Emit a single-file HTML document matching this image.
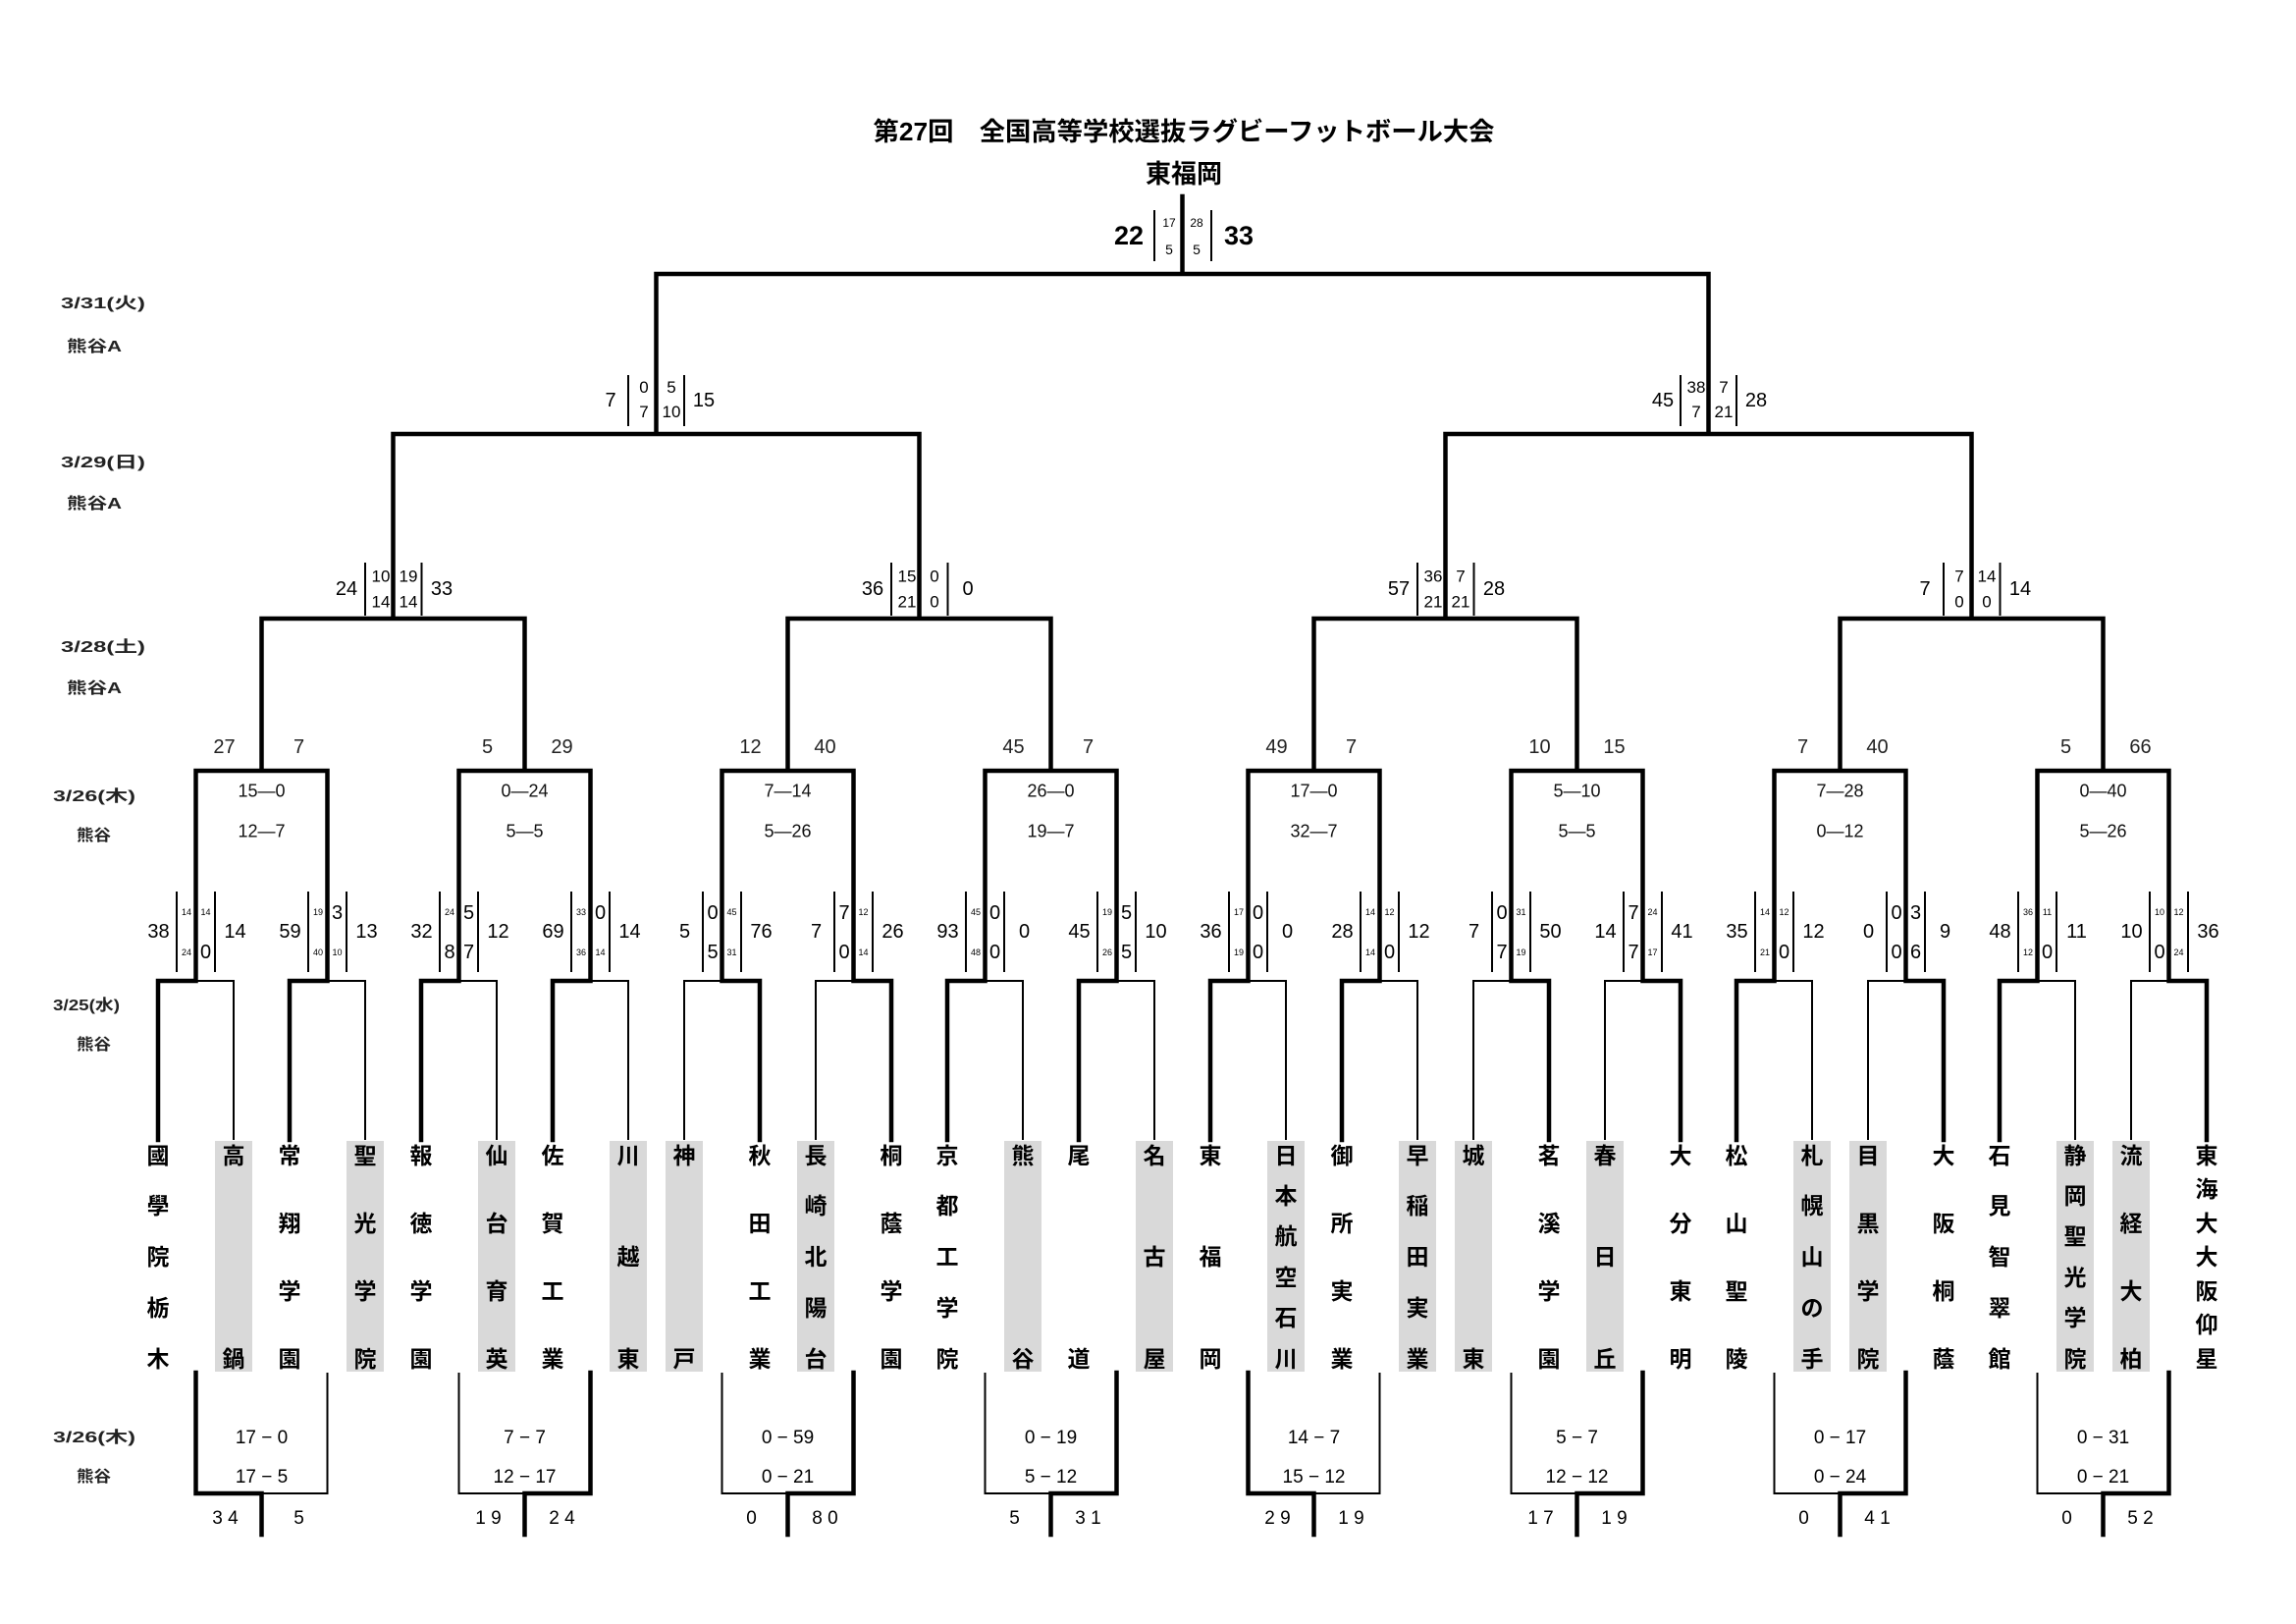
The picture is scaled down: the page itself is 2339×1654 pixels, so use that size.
<!DOCTYPE html>
<html><head><meta charset="utf-8">
<style>
html,body{margin:0;padding:0;background:#fff;width:2339px;height:1654px;overflow:hidden}
svg{display:block}
text{font-family:"Liberation Sans","Noto Sans CJK JP",sans-serif;fill:#000;text-anchor:middle}
.t{font-size:20px}
.hb{font-size:20px}
.hs{font-size:9px}
.q{font-size:20px}
.qh{font-size:17px}
.r{font-size:20px;fill:#222}
.ri{font-size:18px;fill:#111}
.b{font-size:19px}
.d{font-size:16px;font-weight:bold;text-anchor:start;fill:#222}
.n{font-size:23px;font-weight:bold}
.tt{font-size:26px;font-weight:bold}
</style></head>
<body>
<svg width="2339" height="1654" viewBox="0 0 2339 1654">
<!-- title -->
<text class="tt" x="1206" y="143" textLength="633" lengthAdjust="spacingAndGlyphs">第27回　全国高等学校選抜ラグビーフットボール大会</text>
<text class="tt" x="1206" y="186">東福岡</text>

<!-- date labels -->
<text class="d" x="62" y="314" textLength="86" lengthAdjust="spacingAndGlyphs">3/31(火)</text>
<text class="d" x="68" y="358" textLength="56" lengthAdjust="spacingAndGlyphs">熊谷A</text>
<text class="d" x="62" y="476" textLength="86" lengthAdjust="spacingAndGlyphs">3/29(日)</text>
<text class="d" x="68" y="518" textLength="56" lengthAdjust="spacingAndGlyphs">熊谷A</text>
<text class="d" x="62" y="664" textLength="86" lengthAdjust="spacingAndGlyphs">3/28(土)</text>
<text class="d" x="68" y="706" textLength="56" lengthAdjust="spacingAndGlyphs">熊谷A</text>
<text class="d" x="54" y="816" textLength="84" lengthAdjust="spacingAndGlyphs">3/26(木)</text>
<text class="d" x="78" y="856" textLength="35" lengthAdjust="spacingAndGlyphs">熊谷</text>
<text class="d" x="54" y="1029" textLength="68" lengthAdjust="spacingAndGlyphs">3/25(水)</text>
<text class="d" x="78" y="1069" textLength="35" lengthAdjust="spacingAndGlyphs">熊谷</text>
<text class="d" x="54" y="1469" textLength="84" lengthAdjust="spacingAndGlyphs">3/26(木)</text>
<text class="d" x="78" y="1509" textLength="35" lengthAdjust="spacingAndGlyphs">熊谷</text>

<!-- shading for first-round losers -->
<g fill="#d9d9d9">
<rect x="219" y="1162" width="38" height="235"/>
<rect x="353" y="1162" width="38" height="235"/>
<rect x="487" y="1162" width="38" height="235"/>
<rect x="621" y="1162" width="38" height="235"/>
<rect x="678" y="1162" width="38" height="235"/>
<rect x="812" y="1162" width="38" height="235"/>
<rect x="1023" y="1162" width="38" height="235"/>
<rect x="1157" y="1162" width="38" height="235"/>
<rect x="1291" y="1162" width="38" height="235"/>
<rect x="1425" y="1162" width="38" height="235"/>
<rect x="1482" y="1162" width="38" height="235"/>
<rect x="1616" y="1162" width="38" height="235"/>
<rect x="1827" y="1162" width="38" height="235"/>
<rect x="1884" y="1162" width="38" height="235"/>
<rect x="2095" y="1162" width="38" height="235"/>
<rect x="2152" y="1162" width="38" height="235"/>
</g>

<!-- thick bracket lines -->
<path fill="none" stroke="#000" stroke-width="4.5" stroke-linejoin="miter" stroke-linecap="square" d="
M1204.5 200 V279 M668.5 442 V279 H1740.5 V442
M400.5 630 V442 H936.5 V630 M1472.5 630 V442 H2008.5 V630
M266.5 785 V630 H534.5 V785 M802.5 785 V630 H1070.5 V785 M1338.5 785 V630 H1606.5 V785 M1874.5 785 V630 H2142.5 V785
M199.5 999 V785 H333.5 V999
M467.5 999 V785 H601.5 V999
M735.5 999 V785 H869.5 V999
M1003.5 999 V785 H1137.5 V999
M1271.5 999 V785 H1405.5 V999
M1539.5 999 V785 H1673.5 V999
M1807.5 999 V785 H1941.5 V999
M2075.5 999 V785 H2209.5 V999
M199.5 999 H161 V1161
M333.5 999 H295 V1161
M467.5 999 H429 V1161
M601.5 999 H563 V1161
M735.5 999 H774 V1161
M869.5 999 H908 V1161
M1003.5 999 H965 V1161
M1137.5 999 H1099 V1161
M1271.5 999 H1233 V1161
M1405.5 999 H1367 V1161
M1539.5 999 H1578 V1161
M1673.5 999 H1712 V1161
M1807.5 999 H1769 V1161
M1941.5 999 H1980 V1161
M2075.5 999 H2037 V1161
M2209.5 999 H2248 V1161
M266.5 1563 V1521 H199.5 V1398
M534.5 1563 V1521 H601.5 V1398
M802.5 1563 V1521 H869.5 V1398
M1070.5 1563 V1521 H1137.5 V1398
M1338.5 1563 V1521 H1271.5 V1398
M1606.5 1563 V1521 H1673.5 V1398
M1874.5 1563 V1521 H1941.5 V1398
M2142.5 1563 V1521 H2209.5 V1398
"/>

<!-- thin lines -->
<path fill="none" stroke="#000" stroke-width="2" stroke-linejoin="miter" d="
M199.5 999 H238 V1161
M333.5 999 H372 V1161
M467.5 999 H506 V1161
M601.5 999 H640 V1161
M735.5 999 H697 V1161
M869.5 999 H831 V1161
M1003.5 999 H1042 V1161
M1137.5 999 H1176 V1161
M1271.5 999 H1310 V1161
M1405.5 999 H1444 V1161
M1539.5 999 H1501 V1161
M1673.5 999 H1635 V1161
M1807.5 999 H1846 V1161
M1941.5 999 H1903 V1161
M2075.5 999 H2114 V1161
M2209.5 999 H2171 V1161
M266.5 1521 H333.5 V1398
M534.5 1521 H467.5 V1398
M802.5 1521 H735.5 V1398
M1070.5 1521 H1003.5 V1398
M1338.5 1521 H1405.5 V1398
M1606.5 1521 H1539.5 V1398
M1874.5 1521 H1807.5 V1398
M2142.5 1521 H2075.5 V1398
M1176 214 V266 M1234 214 V266
M640 382 V434 M697 382 V434 M1712 382 V434 M1769 382 V434
M372 573 V627 M429.5 573 V627 M908 573 V627 M965.5 573 V627
M1444 573 V627 M1501.5 573 V627 M1980 573 V627 M2037.5 573 V627
M180 908 V990 M219 908 V990 M314 908 V990 M353 908 V990
M448 908 V990 M487 908 V990 M582 908 V990 M621 908 V990
M716 908 V990 M755 908 V990 M850 908 V990 M889 908 V990
M984 908 V990 M1023 908 V990 M1118 908 V990 M1157 908 V990
M1252 908 V990 M1291 908 V990 M1386 908 V990 M1425 908 V990
M1520 908 V990 M1559 908 V990 M1654 908 V990 M1693 908 V990
M1788 908 V990 M1827 908 V990 M1922 908 V990 M1961 908 V990
M2056 908 V990 M2095 908 V990 M2190 908 V990 M2229 908 V990
"/>

<!-- final scores -->
<text x="1150" y="249" style="font-size:27px;font-weight:bold">22</text>
<text x="1262" y="249" style="font-size:27px;font-weight:bold">33</text>
<text x="1191" y="231" style="font-size:12px">17</text>
<text x="1191" y="259" style="font-size:14px">5</text>
<text x="1219" y="231" style="font-size:12px">28</text>
<text x="1219" y="259" style="font-size:14px">5</text>

<!-- semifinal scores -->
<text class="q" x="622" y="414">7</text>
<text class="qh" x="656" y="400">0</text><text class="qh" x="656" y="425">7</text>
<text class="qh" x="684" y="400">5</text><text class="qh" x="684" y="425">10</text>
<text class="q" x="717" y="414">15</text>
<text class="q" x="1694" y="414">45</text>
<text class="qh" x="1728" y="400">38</text><text class="qh" x="1728" y="425">7</text>
<text class="qh" x="1756" y="400">7</text><text class="qh" x="1756" y="425">21</text>
<text class="q" x="1789" y="414">28</text>

<!-- quarterfinal scores -->
<text class="q" x="353" y="606">24</text>
<text class="qh" x="388" y="592.5">10</text><text class="qh" x="388" y="618.5">14</text>
<text class="qh" x="416" y="592.5">19</text><text class="qh" x="416" y="618.5">14</text>
<text class="q" x="450" y="606">33</text>
<text class="q" x="889" y="606">36</text>
<text class="qh" x="924" y="592.5">15</text><text class="qh" x="924" y="618.5">21</text>
<text class="qh" x="952" y="592.5">0</text><text class="qh" x="952" y="618.5">0</text>
<text class="q" x="986" y="606">0</text>
<text class="q" x="1425" y="606">57</text>
<text class="qh" x="1460" y="592.5">36</text><text class="qh" x="1460" y="618.5">21</text>
<text class="qh" x="1488" y="592.5">7</text><text class="qh" x="1488" y="618.5">21</text>
<text class="q" x="1522" y="606">28</text>
<text class="q" x="1961" y="606">7</text>
<text class="qh" x="1996" y="592.5">7</text><text class="qh" x="1996" y="618.5">0</text>
<text class="qh" x="2024" y="592.5">14</text><text class="qh" x="2024" y="618.5">0</text>
<text class="q" x="2058" y="606">14</text>

<!-- R16 top scores -->
<text class="r" x="228.5" y="767">27</text><text class="r" x="304.5" y="767">7</text>
<text class="r" x="496.5" y="767">5</text><text class="r" x="572.5" y="767">29</text>
<text class="r" x="764.5" y="767">12</text><text class="r" x="840.5" y="767">40</text>
<text class="r" x="1032.5" y="767">45</text><text class="r" x="1108.5" y="767">7</text>
<text class="r" x="1300.5" y="767">49</text><text class="r" x="1376.5" y="767">7</text>
<text class="r" x="1568.5" y="767">10</text><text class="r" x="1644.5" y="767">15</text>
<text class="r" x="1836.5" y="767">7</text><text class="r" x="1912.5" y="767">40</text>
<text class="r" x="2104.5" y="767">5</text><text class="r" x="2180.5" y="767">66</text>

<!-- R16 inner -->
<text class="ri" x="266.5" y="811.5">15—0</text><text class="ri" x="266.5" y="852.5">12—7</text>
<text class="ri" x="534.5" y="811.5">0—24</text><text class="ri" x="534.5" y="852.5">5—5</text>
<text class="ri" x="802.5" y="811.5">7—14</text><text class="ri" x="802.5" y="852.5">5—26</text>
<text class="ri" x="1070.5" y="811.5">26—0</text><text class="ri" x="1070.5" y="852.5">19—7</text>
<text class="ri" x="1338.5" y="811.5">17—0</text><text class="ri" x="1338.5" y="852.5">32—7</text>
<text class="ri" x="1606.5" y="811.5">5—10</text><text class="ri" x="1606.5" y="852.5">5—5</text>
<text class="ri" x="1874.5" y="811.5">7—28</text><text class="ri" x="1874.5" y="852.5">0—12</text>
<text class="ri" x="2142.5" y="811.5">0—40</text><text class="ri" x="2142.5" y="852.5">5—26</text>

<!-- first round scores -->
<text class="t" x="161.5" y="955">38</text><text class="hs" x="190" y="932">14</text><text class="hs" x="190" y="973">24</text><text class="hs" x="209.5" y="932">14</text><text class="hb" x="209.5" y="976">0</text><text class="t" x="239.5" y="955">14</text>
<text class="t" x="295.5" y="955">59</text><text class="hs" x="324" y="932">19</text><text class="hs" x="324" y="973">40</text><text class="hb" x="343.5" y="936">3</text><text class="hs" x="343.5" y="973">10</text><text class="t" x="373.5" y="955">13</text>
<text class="t" x="429.5" y="955">32</text><text class="hs" x="458" y="932">24</text><text class="hb" x="458" y="976">8</text><text class="hb" x="477.5" y="936">5</text><text class="hb" x="477.5" y="976">7</text><text class="t" x="507.5" y="955">12</text>
<text class="t" x="563.5" y="955">69</text><text class="hs" x="592" y="932">33</text><text class="hs" x="592" y="973">36</text><text class="hb" x="611.5" y="936">0</text><text class="hs" x="611.5" y="973">14</text><text class="t" x="641.5" y="955">14</text>
<text class="t" x="697.5" y="955">5</text><text class="hb" x="726" y="936">0</text><text class="hb" x="726" y="976">5</text><text class="hs" x="745.5" y="932">45</text><text class="hs" x="745.5" y="973">31</text><text class="t" x="775.5" y="955">76</text>
<text class="t" x="831.5" y="955">7</text><text class="hb" x="860" y="936">7</text><text class="hb" x="860" y="976">0</text><text class="hs" x="879.5" y="932">12</text><text class="hs" x="879.5" y="973">14</text><text class="t" x="909.5" y="955">26</text>
<text class="t" x="965.5" y="955">93</text><text class="hs" x="994" y="932">45</text><text class="hs" x="994" y="973">48</text><text class="hb" x="1013.5" y="936">0</text><text class="hb" x="1013.5" y="976">0</text><text class="t" x="1043.5" y="955">0</text>
<text class="t" x="1099.5" y="955">45</text><text class="hs" x="1128" y="932">19</text><text class="hs" x="1128" y="973">26</text><text class="hb" x="1147.5" y="936">5</text><text class="hb" x="1147.5" y="976">5</text><text class="t" x="1177.5" y="955">10</text>
<text class="t" x="1233.5" y="955">36</text><text class="hs" x="1262" y="932">17</text><text class="hs" x="1262" y="973">19</text><text class="hb" x="1281.5" y="936">0</text><text class="hb" x="1281.5" y="976">0</text><text class="t" x="1311.5" y="955">0</text>
<text class="t" x="1367.5" y="955">28</text><text class="hs" x="1396" y="932">14</text><text class="hs" x="1396" y="973">14</text><text class="hs" x="1415.5" y="932">12</text><text class="hb" x="1415.5" y="976">0</text><text class="t" x="1445.5" y="955">12</text>
<text class="t" x="1501.5" y="955">7</text><text class="hb" x="1530" y="936">0</text><text class="hb" x="1530" y="976">7</text><text class="hs" x="1549.5" y="932">31</text><text class="hs" x="1549.5" y="973">19</text><text class="t" x="1579.5" y="955">50</text>
<text class="t" x="1635.5" y="955">14</text><text class="hb" x="1664" y="936">7</text><text class="hb" x="1664" y="976">7</text><text class="hs" x="1683.5" y="932">24</text><text class="hs" x="1683.5" y="973">17</text><text class="t" x="1713.5" y="955">41</text>
<text class="t" x="1769.5" y="955">35</text><text class="hs" x="1798" y="932">14</text><text class="hs" x="1798" y="973">21</text><text class="hs" x="1817.5" y="932">12</text><text class="hb" x="1817.5" y="976">0</text><text class="t" x="1847.5" y="955">12</text>
<text class="t" x="1903.5" y="955">0</text><text class="hb" x="1932" y="936">0</text><text class="hb" x="1932" y="976">0</text><text class="hb" x="1951.5" y="936">3</text><text class="hb" x="1951.5" y="976">6</text><text class="t" x="1981.5" y="955">9</text>
<text class="t" x="2037.5" y="955">48</text><text class="hs" x="2066" y="932">36</text><text class="hs" x="2066" y="973">12</text><text class="hs" x="2085.5" y="932">11</text><text class="hb" x="2085.5" y="976">0</text><text class="t" x="2115.5" y="955">11</text>
<text class="t" x="2171.5" y="955">10</text><text class="hs" x="2200" y="932">10</text><text class="hb" x="2200" y="976">0</text><text class="hs" x="2219.5" y="932">12</text><text class="hs" x="2219.5" y="973">24</text><text class="t" x="2249.5" y="955">36</text>

<!-- team names -->
<text class="n" x="161 161 161 161 161" y="1185 1236 1288 1340 1392">國學院栃木</text>
<text class="n" x="238 238" y="1185 1392">高鍋</text>
<text class="n" x="295 295 295 295" y="1185 1254 1323 1392">常翔学園</text>
<text class="n" x="372 372 372 372" y="1185 1254 1323 1392">聖光学院</text>
<text class="n" x="429 429 429 429" y="1185 1254 1323 1392">報徳学園</text>
<text class="n" x="506 506 506 506" y="1185 1254 1323 1392">仙台育英</text>
<text class="n" x="563 563 563 563" y="1185 1254 1323 1392">佐賀工業</text>
<text class="n" x="640 640 640" y="1185 1288 1392">川越東</text>
<text class="n" x="697 697" y="1185 1392">神戸</text>
<text class="n" x="774 774 774 774" y="1185 1254 1323 1392">秋田工業</text>
<text class="n" x="831 831 831 831 831" y="1185 1236 1288 1340 1392">長崎北陽台</text>
<text class="n" x="908 908 908 908" y="1185 1254 1323 1392">桐蔭学園</text>
<text class="n" x="965 965 965 965 965" y="1185 1236 1288 1340 1392">京都工学院</text>
<text class="n" x="1042 1042" y="1185 1392">熊谷</text>
<text class="n" x="1099 1099" y="1185 1392">尾道</text>
<text class="n" x="1176 1176 1176" y="1185 1288 1392">名古屋</text>
<text class="n" x="1233 1233 1233" y="1185 1288 1392">東福岡</text>
<text class="n" x="1310 1310 1310 1310 1310 1310" y="1185 1226 1267 1309 1350 1392">日本航空石川</text>
<text class="n" x="1367 1367 1367 1367" y="1185 1254 1323 1392">御所実業</text>
<text class="n" x="1444 1444 1444 1444 1444" y="1185 1236 1288 1340 1392">早稲田実業</text>
<text class="n" x="1501 1501" y="1185 1392">城東</text>
<text class="n" x="1578 1578 1578 1578" y="1185 1254 1323 1392">茗溪学園</text>
<text class="n" x="1635 1635 1635" y="1185 1288 1392">春日丘</text>
<text class="n" x="1712 1712 1712 1712" y="1185 1254 1323 1392">大分東明</text>
<text class="n" x="1769 1769 1769 1769" y="1185 1254 1323 1392">松山聖陵</text>
<text class="n" x="1846 1846 1846 1846 1846" y="1185 1236 1288 1340 1392">札幌山の手</text>
<text class="n" x="1903 1903 1903 1903" y="1185 1254 1323 1392">目黒学院</text>
<text class="n" x="1980 1980 1980 1980" y="1185 1254 1323 1392">大阪桐蔭</text>
<text class="n" x="2037 2037 2037 2037 2037" y="1185 1236 1288 1340 1392">石見智翠館</text>
<text class="n" x="2114 2114 2114 2114 2114 2114" y="1185 1226 1267 1309 1350 1392">静岡聖光学院</text>
<text class="n" x="2171 2171 2171 2171" y="1185 1254 1323 1392">流経大柏</text>
<text class="n" x="2248 2248 2248 2248 2248 2248 2248" y="1185 1219 1254 1288 1323 1357 1392">東海大大阪仰星</text>

<!-- bottom box inner -->
<text class="b" x="266.5" y="1470">17 − 0</text><text class="b" x="266.5" y="1510">17 − 5</text>
<text class="b" x="534.5" y="1470">7 − 7</text><text class="b" x="534.5" y="1510">12 − 17</text>
<text class="b" x="802.5" y="1470">0 − 59</text><text class="b" x="802.5" y="1510">0 − 21</text>
<text class="b" x="1070.5" y="1470">0 − 19</text><text class="b" x="1070.5" y="1510">5 − 12</text>
<text class="b" x="1338.5" y="1470">14 − 7</text><text class="b" x="1338.5" y="1510">15 − 12</text>
<text class="b" x="1606.5" y="1470">5 − 7</text><text class="b" x="1606.5" y="1510">12 − 12</text>
<text class="b" x="1874.5" y="1470">0 − 17</text><text class="b" x="1874.5" y="1510">0 − 24</text>
<text class="b" x="2142.5" y="1470">0 − 31</text><text class="b" x="2142.5" y="1510">0 − 21</text>

<!-- bottom scores -->
<text class="b" x="229.5" y="1552">3 4</text><text class="b" x="304.5" y="1552">5</text>
<text class="b" x="497.5" y="1552">1 9</text><text class="b" x="572.5" y="1552">2 4</text>
<text class="b" x="765.5" y="1552">0</text><text class="b" x="840.5" y="1552">8 0</text>
<text class="b" x="1033.5" y="1552">5</text><text class="b" x="1108.5" y="1552">3 1</text>
<text class="b" x="1301.5" y="1552">2 9</text><text class="b" x="1376.5" y="1552">1 9</text>
<text class="b" x="1569.5" y="1552">1 7</text><text class="b" x="1644.5" y="1552">1 9</text>
<text class="b" x="1837.5" y="1552">0</text><text class="b" x="1912.5" y="1552">4 1</text>
<text class="b" x="2105.5" y="1552">0</text><text class="b" x="2180.5" y="1552">5 2</text>
</svg>
</body></html>
